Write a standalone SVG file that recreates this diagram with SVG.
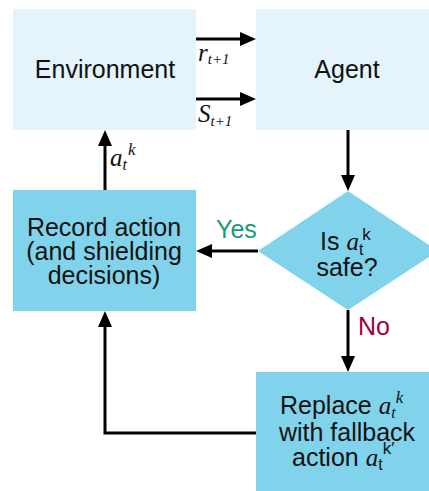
<svg xmlns="http://www.w3.org/2000/svg" width="429" height="491" viewBox="0 0 429 491">
<style>
.light{fill:#e4f4fa}
.dark{fill:#80d3eb}
.t{font-family:"Liberation Sans",Arial,sans-serif;font-size:25px;fill:#111}
.m{font-family:"Liberation Serif","DejaVu Serif",serif;font-style:italic}
.c{stroke:#000;stroke-width:3;fill:none}
</style>
<defs>
<marker id="ah" markerUnits="userSpaceOnUse" markerWidth="16" markerHeight="14" refX="8" refY="7" orient="auto">
<path d="M0,0 L16,7 L0,14 z" fill="#000"/>
</marker>
</defs>
<rect x="0" y="0" width="429" height="491" fill="#fff"/>
<g id="environment">
<rect class="light" x="13" y="9" width="183" height="121"/>
<text class="t" x="105" y="78" text-anchor="middle">Environment</text>
</g>
<g id="agent">
<rect class="light" x="256" y="9" width="185" height="121"/>
<text class="t" x="347" y="78" text-anchor="middle">Agent</text>
</g>
<g id="record">
<rect class="dark" x="13" y="190" width="183" height="121"/>
<text class="t" x="104" y="236" text-anchor="middle">Record action</text>
<text class="t" x="104" y="260" text-anchor="middle">(and shielding</text>
<text class="t" x="104" y="284" text-anchor="middle">decisions)</text>
</g>
<g id="decision">
<path class="dark" d="M348,191 L438,251 L348,310 L258,251 z"/>
<text class="t" x="320" y="250" font-size="24">Is <tspan class="m" font-size="25">a</tspan><tspan font-size="16" dy="5">t</tspan><tspan font-size="17" dx="-1" dy="-15">k</tspan></text>
<text class="t" x="347" y="276" text-anchor="middle" font-size="24">safe?</text>
</g>
<g id="replace">
<rect class="dark" x="256" y="372" width="185" height="125"/>
<text class="t" x="280" y="414">Replace <tspan class="m">a</tspan><tspan class="m" font-size="16" dy="4">t</tspan><tspan class="m" font-size="17" dx="0" dy="-15">k</tspan></text>
<text class="t" x="347" y="441" text-anchor="middle">with fallback</text>
<text class="t" x="292" y="466">action <tspan class="m">a</tspan><tspan font-size="16" dy="4">t</tspan><tspan font-size="17" dx="0" dy="-16">k′</tspan></text>
</g>
<g id="connectors">
<line class="c" x1="196" y1="39" x2="248" y2="39" marker-end="url(#ah)"/>
<line class="c" x1="196" y1="99" x2="248" y2="99" marker-end="url(#ah)"/>
<line class="c" x1="348" y1="130" x2="348" y2="183" marker-end="url(#ah)"/>
<line class="c" x1="258" y1="251" x2="204" y2="251" marker-end="url(#ah)"/>
<line class="c" x1="105" y1="190" x2="105" y2="138" marker-end="url(#ah)"/>
<line class="c" x1="348" y1="310" x2="348" y2="364" marker-end="url(#ah)"/>
<path class="c" d="M256,433 H105 V319" marker-end="url(#ah)"/>
<text class="t m" x="198" y="61" font-size="23">r<tspan font-size="15" dy="3">t+1</tspan></text>
<text class="t m" x="198" y="122" font-size="22">S<tspan font-size="15" dy="4">t+1</tspan></text>
<text class="t m" x="110" y="166" font-size="24">a<tspan font-size="16" dy="4">t</tspan><tspan font-size="17" dx="1" dy="-15">k</tspan></text>
<text class="t" x="216" y="238" style="fill:#1a9a78">Yes</text>
<text class="t" x="358" y="335" style="fill:#a0003c">No</text>
</g>
</svg>
